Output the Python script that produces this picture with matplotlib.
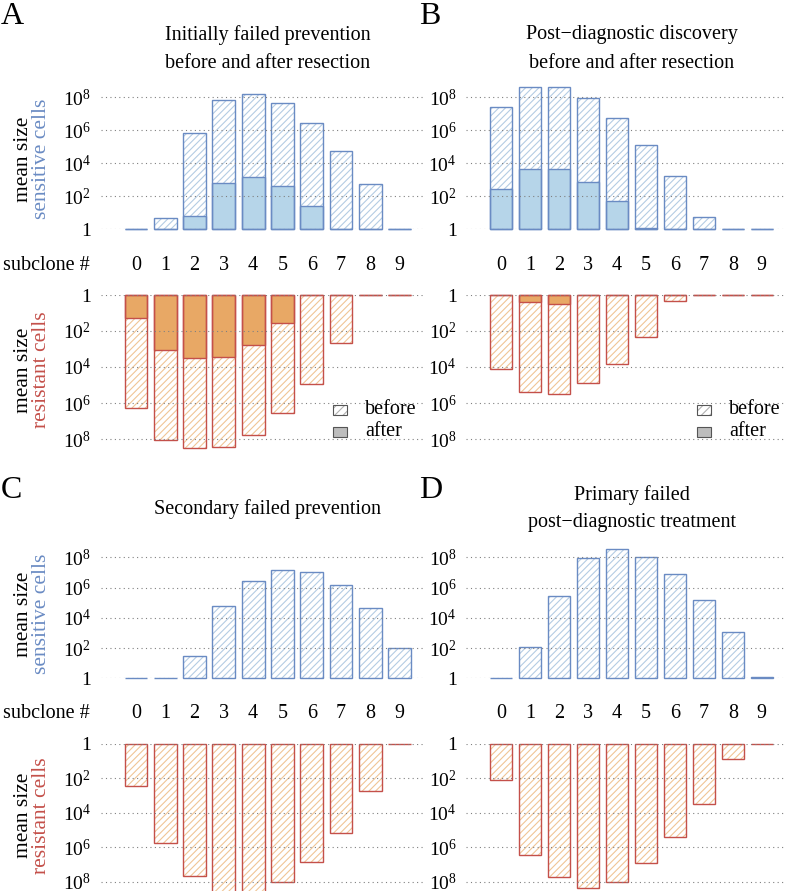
import numpy as np
import matplotlib
matplotlib.use("Agg")
import matplotlib.pyplot as plt
from matplotlib.patches import Rectangle

plt.rcParams['font.family'] = ['Liberation Serif', 'DejaVu Serif']
plt.rcParams['mathtext.fontset'] = 'custom'
plt.rcParams['mathtext.rm'] = 'Liberation Serif'
plt.rcParams['mathtext.it'] = 'Liberation Serif:italic'
plt.rcParams['hatch.linewidth'] = 0.8

# ---- data (mean subclone sizes) ----
subclones = list(range(10))

a_sens_before = [1, 5, 6.6e5, 7e7, 1.5e8, 4.4e7, 2.6e6, 5.8e4, 560, 1]
a_sens_after = [1, 1, 6, 660, 1550, 420, 26, 1, 1, 1]
a_res_before = [1.95e6, 1.15e8, 3.3e8, 2.7e8, 6e7, 3.7e6, 9.1e4, 450, 1, 1]
a_res_after = [20, 1150, 3300, 2700, 630, 37, 1, 1, 1, 1]

b_sens_before = [2.7e7, 4.4e8, 4.4e8, 8.7e7, 5.4e6, 1.2e5, 1700, 5.8, 1, 1]
b_sens_after = [270, 4400, 4400, 760, 50, 1.2, 1, 1, 1, 1]
b_res_before = [1.35e4, 2.6e5, 3.3e5, 7.4e4, 7e3, 220, 2.1, 1, 1, 1]
b_res_after = [1, 2.5, 3.3, 1, 1, 1, 1, 1, 1, 1]

c_sens = [1, 1, 32, 6.5e4, 2.9e6, 1.5e7, 1.15e7, 1.5e6, 4.3e4, 98]
c_res = [265, 6e5, 4.5e7, 1e9, 1e9, 1.1e8, 7.6e6, 1.4e5, 540, 1]

d_sens = [1, 112, 2.8e5, 8.9e7, 3.5e8, 1e8, 7.7e6, 1.5e5, 1200, 1.2]
d_res = [120, 2.8e6, 5.6e7, 2.4e8, 1.05e8, 8.7e6, 2.5e5, 3200, 7.4, 1]

titles = ["Initially failed prevention\nbefore and after resection",
          "Post\u2212diagnostic discovery\nbefore and after resection",
          "Secondary failed prevention",
          "Primary failed\npost\u2212diagnostic treatment"]

ticks = [1, 1e2, 1e4, 1e6, 1e8]
tick_labels = ['1', r'$10^2$', r'$10^4$', r'$10^6$', r'$10^8$']

# ---- colours ----
blue_edge = '#6a8bc3'
blue_fill = '#b6d5e9'
blue_hatch = '#b4cce3'
red_edge = '#c4504a'
red_fill = '#e8a865'
red_hatch = '#f0c596'

W, H = 785, 891
fig = plt.figure(figsize=(W / 100, H / 100), dpi=100)

FS = 14.5


def add_ax(left, right, top, bottom):
    return fig.add_axes([left / W, 1 - bottom / H, (right - left) / W, (bottom - top) / H])


def fx(x):
    return x / W


def fy(y):
    return 1 - y / H


def style_ax(ax, invert):
    ax.set_yscale('log')
    ax.set_xlim(-1.2, 9.8)
    if invert:
        ax.set_ylim(10 ** 8.6, 1)
    else:
        ax.set_ylim(1, 10 ** 8.8)
    for s in ax.spines.values():
        s.set_visible(False)
    ax.set_xticks([])
    ax.set_yticks(ticks)
    ax.set_yticklabels(tick_labels)
    ax.minorticks_off()
    ax.tick_params(axis='y', length=0, pad=7, labelsize=14)
    for t in ticks:
        ax.axhline(t, color='#808080', lw=0.8, ls=(0, (1, 3)), zorder=5)


def draw_bars(ax, before, after, edge, fill, hatchc):
    x = np.array(subclones)
    before = np.array(before, float)
    ax.bar(x, before - 1, bottom=1, width=0.78, color='none', edgecolor=hatchc,
           hatch='/////', lw=0, zorder=2, clip_on=False)
    if after is not None:
        after = np.array(after, float)
        ax.bar(x, after - 1, bottom=1, width=0.78, color=fill, edgecolor=edge,
               lw=1.0, zorder=3, clip_on=False)
    ax.bar(x, before - 1, bottom=1, width=0.78, fill=False, edgecolor=edge,
           lw=1.0, zorder=4, clip_on=False)


# panel layouts in pixels
cols = [(100.8, 423.0, 267.5), (466.4, 785.0, 631.7)]
rows = [
    # top axis (top, base), bottom axis (base, bottom), subclone row y
    dict(top=(84.1, 229.3), bot=(295.0, 449.8), sub=265.0),
    dict(top=(545.4, 678.3), bot=(744.0, 891.9), sub=713.3),
]

panels = [
    (0, 0, a_sens_before, a_sens_after, a_res_before, a_res_after, 'A'),
    (0, 1, b_sens_before, b_sens_after, b_res_before, b_res_after, 'B'),
    (1, 0, c_sens, None, c_res, None, 'C'),
    (1, 1, d_sens, None, d_res, None, 'D'),
]

title_y = [(35.0, 63.0), (495.0, 523.0)]

for i, (r, c, sb, sa, rb, ra, letter) in enumerate(panels):
    left, right, xc = cols[c]
    row = rows[r]
    ax1 = add_ax(left, right, row['top'][0], row['top'][1])
    style_ax(ax1, False)
    draw_bars(ax1, sb, sa, blue_edge, blue_fill, blue_hatch)

    ax2 = add_ax(left, right, row['bot'][0], row['bot'][1])
    style_ax(ax2, True)
    draw_bars(ax2, rb, ra, red_edge, red_fill, red_hatch)

    # subclone numbers
    for k in subclones:
        xp = ax1.transData.transform((k, 1))[0]
        fig.text(xp / W, fy(row['sub']), str(k), ha='center', va='center', fontsize=FS)
    if c == 0:
        fig.text(fx(90), fy(row['sub']), 'subclone #', ha='right', va='center', fontsize=FS)
        mid_top = (row['top'][1] + row['top'][1] - 8 * (row['top'][1] - row['top'][0]) / 8.8) / 2 - 4
        mid_bot = (row['bot'][0] + row['bot'][0] + 8 * (row['bot'][1] - row['bot'][0]) / 8.6) / 2 + 3
        fig.text(fx(23.5), fy(mid_top), 'mean size', rotation=90, ha='center', va='center', fontsize=15.5)
        fig.text(fx(41.5), fy(mid_top), 'sensitive cells', rotation=90, ha='center', va='center',
                 fontsize=15.5, color=blue_edge)
        fig.text(fx(23.5), fy(mid_bot), 'mean size', rotation=90, ha='center', va='center', fontsize=15.5)
        fig.text(fx(41.5), fy(mid_bot), 'resistant cells', rotation=90, ha='center', va='center',
                 fontsize=15.5, color=red_edge)

    # titles
    ty = title_y[r]
    if '\n' in titles[i]:
        l1, l2 = titles[i].split('\n')
        fig.text(fx(xc), fy(ty[0]), l1, ha='center', va='center', fontsize=FS)
        fig.text(fx(xc), fy(ty[1]), l2, ha='center', va='center', fontsize=FS)
    else:
        fig.text(fx(xc), fy((ty[0] + ty[1]) / 2), titles[i], ha='center', va='center', fontsize=FS)

    # panel letter
    lx = 1 if c == 0 else 419
    ly = 2 if r == 0 else 476
    fig.text(fx(lx), fy(ly), letter, ha='left', va='top', fontsize=23)

    # legend for the resection panels
    if r == 0:
        bx = 333 if c == 0 else 697
        for yy, lab, hatched in [(410, 'before', True), (432, 'after', False)]:
            if hatched:
                fig.add_artist(Rectangle((fx(bx), fy(yy + 5)), 14 / W, 10 / H, transform=fig.transFigure,
                                         facecolor='white', edgecolor='#b0b0b0', hatch='////', lw=0))
                fig.add_artist(Rectangle((fx(bx), fy(yy + 5)), 14 / W, 10 / H, transform=fig.transFigure,
                                         fill=False, edgecolor='#555555', lw=0.8))
            else:
                fig.add_artist(Rectangle((fx(bx), fy(yy + 5)), 14 / W, 10 / H, transform=fig.transFigure,
                                         facecolor='#bdbdbd', edgecolor='#555555', lw=0.8))
            fig.text(fx(bx + 32), fy(yy), lab, ha='left', va='center', fontsize=FS)

fig.savefig('out.png', dpi=100)
